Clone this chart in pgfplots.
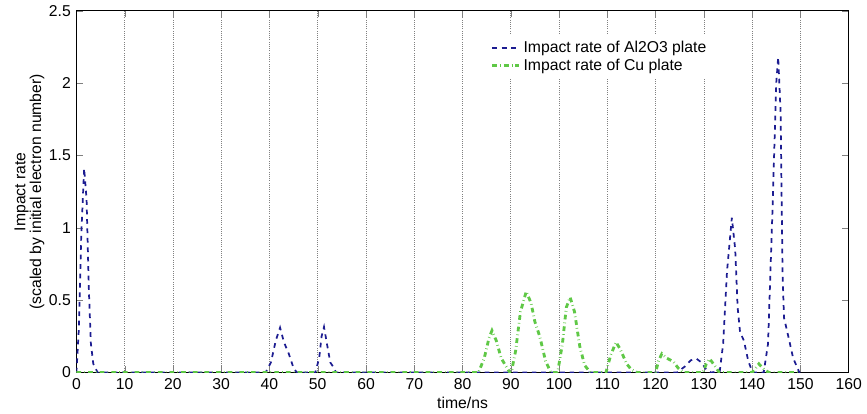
\documentclass[border={6pt 0pt 0pt 0pt}]{standalone}
\usepackage{fontspec}
\setmainfont{Liberation Sans}
\usepackage{pgfplots}
\pgfplotsset{compat=1.18}
\definecolor{alblue}{RGB}{28,28,145}
\definecolor{cugreen}{RGB}{95,200,70}
\begin{document}
\begin{tikzpicture}
\begin{axis}[
    scale only axis,
    width=491pt, height=230pt,
    xmin=0, xmax=160, ymin=0, ymax=2.5,
    xtick={0,10,...,160},
    ytick={0,0.5,1,1.5,2,2.5},
    yticklabels={0,0.5,1,1.5,2,2.5},
    /pgf/number format/assume math mode=true,
    tick align=inside,
    major tick length=4pt,
    xmajorgrids,
    grid style={densely dotted, black!50, line width=0.4pt},
    xlabel={time/ns},
    ylabel={Impact rate\\[-2pt](scaled by initial electron number)},
    ylabel style={align=center, yshift=-4pt},
    xlabel style={yshift=2pt},
    ticklabel style={font=\normalsize},
    legend style={at={(0.53,0.934)}, anchor=north west, draw=none,
        fill=white, font=\normalsize, row sep=-1.5pt},
    legend cell align=left,
]
\addplot[alblue, dashed, line width=1.1pt] coordinates {
(0,0) (0.5,0.3) (1,0.95) (1.6,1.41) (2.1,1.2) (2.6,0.55) (3,0.2) (3.5,0.06) (4.4,0)
(39.2,0) (40.3,0.07) (41.3,0.22) (42.2,0.31) (43,0.21) (44,0.13) (45,0.03) (45.7,0)
(49.5,0) (50.3,0.1) (50.8,0.25) (51.3,0.315) (51.9,0.2) (52.6,0.07) (53.2,0.04) (53.8,0)
(124.4,0) (126,0.04) (127.3,0.085) (128.5,0.095) (129.5,0.07) (130.5,0.02) (131.5,0)
(133.3,0.01) (134,0.2) (134.8,0.7) (135.8,1.07) (136.5,0.85) (137,0.45) (137.5,0.28)
(138.3,0.22) (139.2,0.08) (140.1,0)
(142.4,0) (143.3,0.2) (144.2,1.1) (145,2.0) (145.4,2.18) (145.9,1.8) (146.3,0.7)
(146.6,0.38) (147.5,0.25) (148.5,0.1) (149.8,0) (150,0)
};
\addlegendentry{Impact rate of Al2O3 plate}
\addplot[cugreen, dash dot, line width=1.8pt] coordinates {
(0,0) (83.3,0) (84.5,0.1) (85.5,0.24) (86.1,0.29) (87,0.22) (88,0.1) (89.8,0)
(90.1,0) (91,0.15) (92,0.42) (93.2,0.56) (94.2,0.48) (95,0.35) (96,0.25) (97.2,0.08) (98.3,0)
(99.7,0) (100.7,0.2) (101.5,0.45) (102.3,0.52) (103.2,0.42) (104.3,0.18) (105.3,0.05) (106.5,0)
(109.7,0) (110.7,0.12) (111.8,0.21) (112.7,0.16) (114,0.06) (115,0.02) (116.2,0)
(120,0) (120.6,0.08) (121.3,0.13) (122.3,0.1) (123.7,0.075) (124.7,0.03) (125.7,0)
(129.8,0) (130.5,0.06) (131.2,0.095) (132.2,0.05) (133.2,0)
(140,0) (141.4,0.06) (142.5,0.02) (143.5,0) (150,0)
};
\addlegendentry{Impact rate of Cu plate}
\end{axis}
\end{tikzpicture}
\end{document}
